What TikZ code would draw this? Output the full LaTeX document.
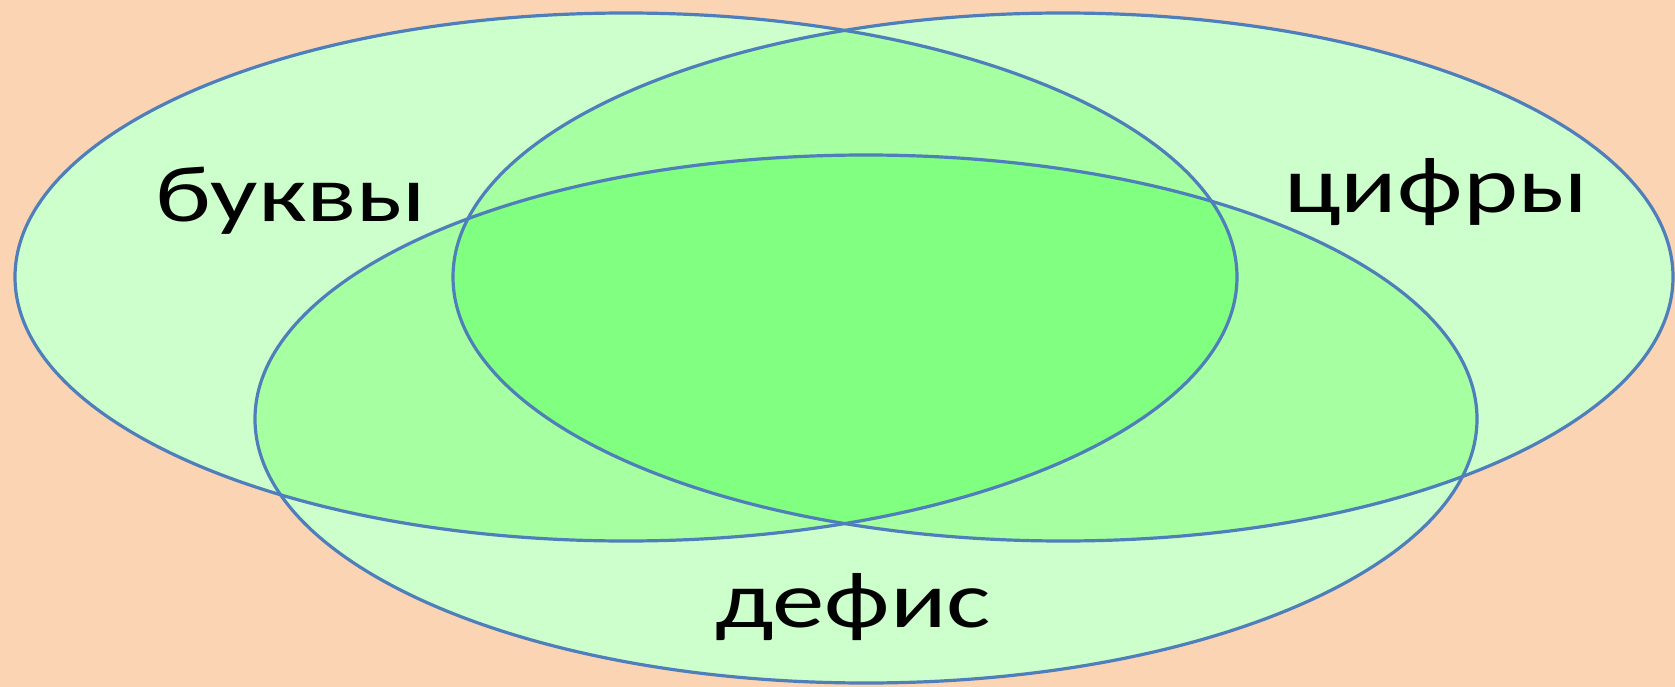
\documentclass[tikz,border=0pt]{standalone}
\usepackage{fontspec}
\setmainfont{Carlito}
\definecolor{bgpeach}{HTML}{FBD4B4}
\definecolor{oneg}{HTML}{CCFFCC}
\definecolor{twog}{HTML}{A6FFA0}
\definecolor{threeg}{HTML}{80FF80}
\definecolor{edgeblue}{HTML}{4F7FBA}
\newcommand{\widetext}[1]{\scalebox{1.31}[1]{#1}}
\tikzset{
  vlabel/.style={anchor=base, inner sep=0pt, font=\fontsize{80}{90}\selectfont, text=black},
  vedge/.style={draw=edgeblue, line width=3.2pt}
}
\begin{document}
\begin{tikzpicture}[x=1pt,y=-1pt]
\useasboundingbox (0,0) rectangle (1675,687);
\fill[bgpeach] (0,0) rectangle (1675,687);
% single fills
\fill[oneg] (626,277) ellipse [x radius=611pt, y radius=264pt];
\fill[oneg] (1063,277) ellipse [x radius=610pt, y radius=264pt];
\fill[oneg] (866,419) ellipse [x radius=611pt, y radius=264pt];
% pairwise
\begin{scope}
  \clip (626,277) ellipse [x radius=611pt, y radius=264pt];
  \fill[twog] (1063,277) ellipse [x radius=610pt, y radius=264pt];
  \fill[twog] (866,419) ellipse [x radius=611pt, y radius=264pt];
\end{scope}
\begin{scope}
  \clip (1063,277) ellipse [x radius=610pt, y radius=264pt];
  \fill[twog] (866,419) ellipse [x radius=611pt, y radius=264pt];
\end{scope}
% triple
\begin{scope}
  \clip (626,277) ellipse [x radius=611pt, y radius=264pt];
  \clip (1063,277) ellipse [x radius=610pt, y radius=264pt];
  \fill[threeg] (866,419) ellipse [x radius=611pt, y radius=264pt];
\end{scope}
% outlines
\draw[vedge] (626,277) ellipse [x radius=611pt, y radius=264pt];
\draw[vedge] (1063,277) ellipse [x radius=610pt, y radius=264pt];
\draw[vedge] (866,419) ellipse [x radius=611pt, y radius=264pt];
% labels
\node[vlabel] (bukvy) at (291,222) {\widetext{буквы}};
\node[vlabel] (cifry) at (1436,212) {\widetext{цифры}};
\node[vlabel] (defis) at (853,627) {\widetext{дефис}};
\end{tikzpicture}
\end{document}
